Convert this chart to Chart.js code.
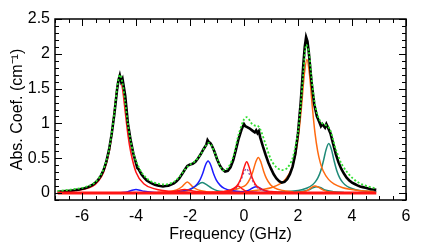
<!DOCTYPE html>
<html>
<head>
<meta charset="utf-8">
<script src="https://cdn.jsdelivr.net/npm/chart.js@4.4.1/dist/chart.umd.min.js"></script>
<style>
body { margin: 0; background: #fff; }
</style>
</head>
<body>
<canvas id="chart" width="439" height="244"></canvas>
<script>

// ======================
// DATA
// ======================

const xTicks = [-6, -4, -2, 0, 2, 4, 6];
const yTicks = [0, 0.5, 1, 1.5, 2, 2.5];

// measured spectrum (black)
const dataX = [
-6.9,-6.8,-6.7,-6.6,-6.5,-6.4,-6.3,-6.2,-6.1,-6.0,
-5.9,-5.8,-5.7,-5.6,-5.5,-5.4,-5.3,-5.2,-5.1,-5.0,
-4.9,-4.8,-4.7,-4.65,-4.6,-4.55,-4.5,-4.45,-4.4,-4.3,-4.2,-4.1,-4.0,
-3.95,-3.9,-3.8,-3.7,-3.6,-3.5,-3.4,-3.3,-3.2,-3.1,-3.0,
-2.9,-2.8,-2.7,-2.6,-2.5,-2.4,-2.3,-2.2,-2.1,-2.0,
-1.9,-1.8,-1.7,-1.6,-1.5,-1.4,-1.35,-1.3,-1.25,-1.2,-1.1,-1.0,
-0.9,-0.8,-0.7,-0.6,-0.5,-0.4,-0.3,-0.2,-0.1,-0.05,0.0,
0.05,0.1,0.2,0.3,0.4,0.45,0.5,0.55,0.6,0.7,0.8,0.9,1.0,
1.1,1.2,1.3,1.4,1.5,1.6,1.7,1.8,1.9,2.0,
2.1,2.2,2.25,2.3,2.35,2.4,2.5,2.6,2.7,2.8,2.85,2.9,3.0,3.05,
3.1,3.2,3.3,3.4,3.5,3.6,3.7,3.8,3.9,4.0,
4.1,4.2,4.3,4.4,4.5,4.6,4.7,4.8,4.9
];
const dataY = [
0.02,0.022,0.025,0.03,0.031,0.035,0.04,0.046,0.05,0.06,
0.07,0.082,0.10,0.12,0.15,0.19,0.25,0.33,0.45,0.62,
0.85,1.14,1.49,1.62,1.69,1.60,1.64,1.52,1.40,1.00,0.76,0.57,0.43,
0.36,0.34,0.27,0.22,0.18,0.155,0.135,0.12,0.11,0.10,0.095,
0.10,0.105,0.12,0.14,0.17,0.21,0.27,0.33,0.39,0.41,
0.42,0.45,0.50,0.56,0.63,0.69,0.76,0.73,0.72,0.69,0.60,0.49,
0.40,0.34,0.31,0.32,0.37,0.47,0.62,0.78,0.90,0.95,0.99,
0.96,0.95,0.93,0.90,0.87,0.90,0.86,0.89,0.80,0.67,0.55,0.44,0.35,
0.27,0.21,0.17,0.15,0.16,0.20,0.27,0.38,0.56,0.86,
1.30,1.86,2.10,2.24,2.18,2.02,1.60,1.28,1.10,1.01,0.96,0.99,0.94,0.99,
0.95,0.86,0.71,0.56,0.44,0.35,0.28,0.22,0.18,0.15,
0.13,0.11,0.095,0.085,0.075,0.065,0.055,0.05,0.045
];

// total fit (green dotted)
const fitX = [-6.9,-6.5,-6.0,-5.7,-5.5,-5.3,-5.1,-5.0,-4.9,-4.8,-4.7,-4.6,-4.5,-4.4,-4.3,-4.2,-4.1,-4.0,-3.8,-3.6,-3.4,-3.2,-3.0,-2.8,-2.6,-2.4,-2.2,-2.0,-1.8,-1.6,-1.4,-1.3,-1.2,-1.0,-0.8,-0.6,-0.4,-0.2,0.0,0.1,0.2,0.3,0.4,0.5,0.6,0.8,1.0,1.2,1.4,1.6,1.8,2.0,2.1,2.2,2.3,2.4,2.5,2.6,2.7,2.8,2.9,3.0,3.1,3.2,3.3,3.4,3.6,3.8,4.0,4.2,4.4,4.6,4.8,4.9];
const fitY = [0.03,0.045,0.075,0.11,0.16,0.26,0.46,0.62,0.86,1.16,1.51,1.70,1.58,1.30,0.99,0.75,0.58,0.46,0.30,0.21,0.16,0.135,0.125,0.13,0.16,0.23,0.33,0.41,0.46,0.56,0.69,0.72,0.68,0.50,0.33,0.36,0.52,0.84,1.06,1.09,1.05,0.99,0.97,0.97,0.92,0.70,0.48,0.37,0.33,0.36,0.50,0.88,1.26,1.74,2.13,2.03,1.66,1.34,1.15,1.05,1.00,0.98,0.96,0.90,0.77,0.63,0.43,0.31,0.22,0.16,0.12,0.095,0.075,0.065];

// components
const redAX = [-6.9,-6.5,-6.0,-5.6,-5.4,-5.2,-5.0,-4.9,-4.8,-4.7,-4.6,-4.5,-4.4,-4.3,-4.2,-4.0,-3.7,-3.3,-3.0,-2.5,-2.0];
const redAY = [0.015,0.025,0.05,0.10,0.17,0.30,0.58,0.84,1.17,1.50,1.66,1.50,1.17,0.84,0.60,0.30,0.13,0.06,0.035,0.015,0.008];

const blueAX = [-4.6,-4.3,-4.1,-4.0,-3.9,-3.7,-3.4,-3.0];
const blueAY = [0.005,0.02,0.045,0.05,0.045,0.025,0.01,0.004];

const redBX = [-3.2,-2.8,-2.5,-2.35,-2.2,-2.05,-1.9,-1.6,-1.2];
const redBY = [0.006,0.015,0.03,0.045,0.05,0.045,0.03,0.015,0.006];

const orangeAX = [-3.2,-2.8,-2.5,-2.3,-2.2,-2.1,-2.0,-1.9,-1.7,-1.4,-1.0,-0.5];
const orangeAY = [0.008,0.02,0.045,0.09,0.13,0.16,0.13,0.09,0.045,0.02,0.01,0.004];

const tealAX = [-2.8,-2.4,-2.1,-1.9,-1.75,-1.55,-1.35,-1.2,-1.0,-0.7,-0.3,0.2];
const tealAY = [0.008,0.018,0.035,0.07,0.11,0.15,0.11,0.07,0.035,0.018,0.008,0.004];

const blueBX = [-2.8,-2.3,-2.0,-1.8,-1.63,-1.53,-1.43,-1.33,-1.23,-1.13,-1.03,-0.88,-0.73,-0.43,0.0,0.5];
const blueBY = [0.013,0.029,0.056,0.10,0.19,0.28,0.40,0.46,0.40,0.28,0.19,0.11,0.068,0.033,0.015,0.008];

const redCX = [-1.0,-0.7,-0.5,-0.35,-0.22,-0.08,0.05,0.3,0.6];
const redCY = [0.006,0.012,0.03,0.065,0.10,0.065,0.03,0.012,0.006];

const redDX = [-1.2,-0.8,-0.5,-0.3,-0.2,-0.1,0.0,0.1,0.2,0.3,0.4,0.5,0.7,1.0,1.4];
const redDY = [0.01,0.021,0.045,0.09,0.14,0.225,0.36,0.45,0.36,0.225,0.14,0.09,0.045,0.021,0.01];

const purpleX = [-0.3,-0.1,0.0,0.1,0.2,0.3,0.4,0.55,0.8];
const purpleY = [0.06,0.20,0.30,0.35,0.27,0.19,0.12,0.06,0.025];

const blueCX = [-0.3,0.0,0.2,0.35,0.45,0.55,0.7,0.9,1.2];
const blueCY = [0.01,0.02,0.045,0.08,0.09,0.08,0.045,0.02,0.01];

const orangeBX = [-0.8,-0.4,-0.15,0.08,0.23,0.33,0.43,0.53,0.63,0.73,0.83,0.98,1.13,1.43,1.83];
const orangeBY = [0.018,0.037,0.075,0.12,0.21,0.31,0.44,0.51,0.44,0.31,0.21,0.12,0.075,0.037,0.018];

const orangeCX = [-0.97,-0.17,0.33,0.73,1.03,1.33,1.53,1.73,1.83,1.93,2.03,2.13,2.23,2.33,2.43,2.53,2.63,2.73,2.83,2.93,3.13,3.33,3.63,3.93,4.33,4.83];
const orangeCY = [0.013,0.022,0.034,0.053,0.079,0.13,0.196,0.32,0.43,0.60,0.86,1.24,1.69,1.92,1.69,1.24,0.86,0.60,0.43,0.32,0.196,0.13,0.079,0.053,0.034,0.022];

const orangeDX = [1.9,2.2,2.4,2.52,2.63,2.75,2.9,3.1,3.4];
const orangeDY = [0.008,0.02,0.05,0.085,0.10,0.085,0.05,0.02,0.008];

const tealBX = [1.7,2.1,2.4,2.55,2.7,2.85,3.0,3.3,3.7];
const tealBY = [0.008,0.02,0.045,0.075,0.09,0.075,0.045,0.02,0.008];

const tealCX = [0.64,1.14,1.54,1.84,2.14,2.34,2.54,2.64,2.74,2.84,2.94,3.04,3.14,3.24,3.34,3.44,3.54,3.64,3.74,3.94,4.14,4.44,4.74,4.9];
const tealCY = [0.008,0.013,0.02,0.029,0.048,0.072,0.119,0.16,0.222,0.317,0.459,0.624,0.71,0.624,0.459,0.317,0.222,0.16,0.119,0.072,0.048,0.029,0.02,0.017];

const baseX = [-6.9, 4.9];
const baseY = [0, 0];

// ======================
// COLORS
// ======================

const RED = "#ff1414";
const BLUE = "#1c1cff";
const ORANGE = "#ff6a10";
const TEAL = "#1e8a78";
const GREEN = "#2fe02f";
const PURPLE = "#8a4aa8";

// ======================
// HELPERS
// ======================

function pts(xs, ys){
    return xs.map((x, i) => ({ x: x, y: ys[i] }));
}

function curve(xs, ys, color, width, extra){
    return Object.assign({
        data: pts(xs, ys),
        borderColor: color,
        borderWidth: width,
        pointRadius: 0,
        fill: false,
        cubicInterpolationMode: "monotone"
    }, extra || {});
}

// ======================
// FRAME + INWARD TICKS
// ======================

const frameTicks = {
    id: "frameTicks",
    afterDraw(chart){
        const ctx = chart.ctx;
        const a = chart.chartArea;
        const xs = chart.scales.x;
        const ys = chart.scales.y;

        ctx.save();
        ctx.strokeStyle = "#000";
        ctx.lineWidth = 1;
        ctx.beginPath();

        for(let i = -14; i <= 12; i++){
            const px = Math.round(xs.getPixelForValue(i / 2)) + 0.5;
            const len = (i % 4 === 0) ? 7 : 4;
            ctx.moveTo(px, a.bottom);
            ctx.lineTo(px, a.bottom - len);
            ctx.moveTo(px, a.top);
            ctx.lineTo(px, a.top + len);
        }

        for(let i = -1; i <= 25; i++){
            const py = Math.round(ys.getPixelForValue(i / 10)) + 0.5;
            const len = (i % 5 === 0) ? 7 : 4;
            ctx.moveTo(a.left, py);
            ctx.lineTo(a.left + len, py);
            ctx.moveTo(a.right, py);
            ctx.lineTo(a.right - len, py);
        }
        ctx.stroke();

        ctx.lineWidth = 1.5;
        ctx.strokeRect(a.left, a.top, a.right - a.left, a.bottom - a.top);
        ctx.restore();
    }
};

// ======================
// CHART
// ======================

const FONT = "'Liberation Sans', Arial, Helvetica, sans-serif";

new Chart(
document.getElementById("chart"),
{
    type: "line",
    data: {
        datasets: [
            curve(fitX, fitY, GREEN, 1.8, { borderDash: [2, 2], cubicInterpolationMode: "default", tension: 0.3 }),
            curve(baseX, baseY, RED, 3),
            curve(dataX, dataY, "#000", 2.6, { cubicInterpolationMode: "default", tension: 0 }),
            curve(redAX, redAY, RED, 1.5),
            curve(redDX, redDY, RED, 1.5),
            curve(redCX, redCY, RED, 1.5),
            curve(redBX, redBY, RED, 1.5),
            curve(purpleX, purpleY, PURPLE, 1.3, { borderDash: [2, 2] }),
            curve(blueAX, blueAY, BLUE, 1.5),
            curve(blueBX, blueBY, BLUE, 1.5),
            curve(blueCX, blueCY, BLUE, 1.5),
            curve(orangeAX, orangeAY, ORANGE, 1.5),
            curve(orangeBX, orangeBY, ORANGE, 1.5),
            curve(orangeCX, orangeCY, ORANGE, 1.5),
            curve(orangeDX, orangeDY, ORANGE, 1.5),
            curve(tealAX, tealAY, TEAL, 1.5),
            curve(tealBX, tealBY, TEAL, 1.5),
            curve(tealCX, tealCY, TEAL, 1.5)
        ]
    },
    options: {
        responsive: false,
        devicePixelRatio: 1,
        animation: false,
        layout: {
            padding: { top: 19, right: 33, left: 0, bottom: 0 }
        },
        plugins: {
            legend: { display: false },
            tooltip: { enabled: false }
        },
        scales: {
            x: {
                type: "linear",
                min: -7,
                max: 6,
                afterBuildTicks: (s) => { s.ticks = xTicks.map(v => ({ value: v })); },
                afterFit: (s) => { s.height = 44; },
                grid: { display: false, drawTicks: false },
                border: { display: false },
                ticks: {
                    color: "#000",
                    padding: 7,
                    maxRotation: 0,
                    font: { family: FONT, size: 16 },
                    callback: (v) => String(v)
                },
                title: {
                    display: true,
                    text: "Frequency (GHz)",
                    color: "#000",
                    padding: { top: 0, bottom: 0 },
                    font: { family: FONT, size: 16 }
                }
            },
            y: {
                type: "linear",
                min: -0.1,
                max: 2.5,
                afterBuildTicks: (s) => { s.ticks = yTicks.map(v => ({ value: v })); },
                afterFit: (s) => { s.width = 55; },
                grid: { display: false, drawTicks: false },
                border: { display: false },
                ticks: {
                    color: "#000",
                    padding: 5,
                    font: { family: FONT, size: 16 },
                    callback: (v) => String(v)
                },
                title: {
                    display: true,
                    text: "Abs. Coef. (cm\u207B\u00B9)",
                    color: "#000",
                    padding: { top: 8, bottom: 0 },
                    font: { family: FONT, size: 16 }
                }
            }
        }
    },
    plugins: [frameTicks]
}
);

</script>
</body>
</html>
